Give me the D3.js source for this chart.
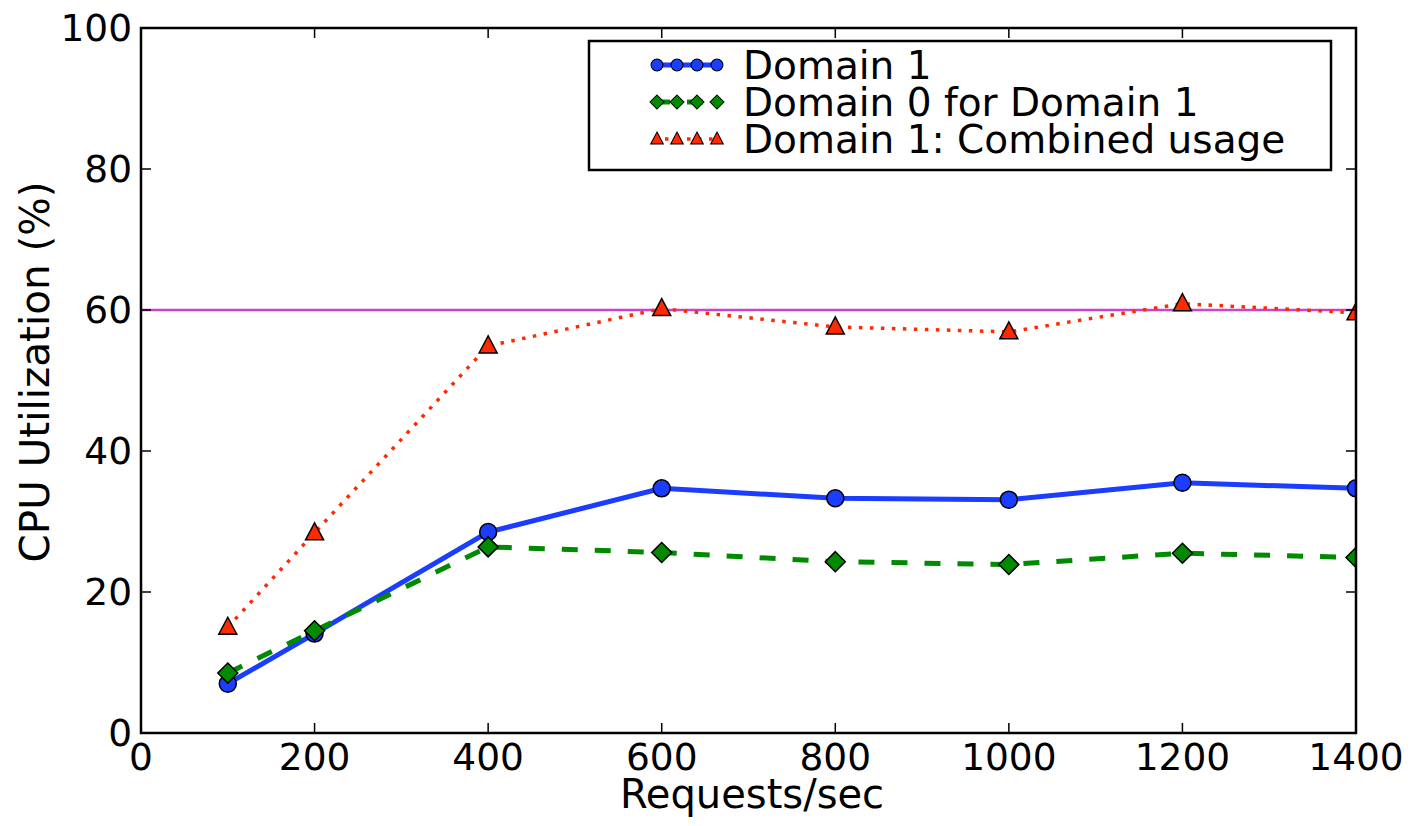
<!DOCTYPE html>
<html>
<head>
<meta charset="utf-8">
<script src="https://cdn.jsdelivr.net/npm/d3@7"></script>
<style>
  body { margin: 0; background: #fff; }
  text { font-family: "DejaVu Sans", sans-serif; fill: #000; }
</style>
</head>
<body>
<div id="canvas"></div>
<script>
// data
const requests = [100, 200, 400, 600, 800, 1000, 1200, 1400];
const domain1 = [7.0, 14.1, 28.5, 34.7, 33.3, 33.1, 35.5, 34.7];
const domain0For1 = [8.5, 14.5, 26.4, 25.6, 24.3, 23.9, 25.5, 24.9];
const combined = [15.0, 28.4, 54.9, 60.2, 57.6, 56.9, 60.9, 59.6];
const capLine = 60;
const xTicks = [0, 200, 400, 600, 800, 1000, 1200, 1400];
const yTicks = [0, 20, 40, 60, 80, 100];

const W = 1416, H = 826;
const M = {t: 28, r: 60, b: 93, l: 141};
const iw = W - M.l - M.r, ih = H - M.t - M.b;

const svg = d3.select('#canvas').append('svg')
  .attr('width', W).attr('height', H);

const x = d3.scaleLinear().domain([0, 1400]).range([0, iw]);
const y = d3.scaleLinear().domain([0, 100]).range([ih, 0]);

const plot = svg.append('g').attr('transform', 'translate(' + M.l + ',' + M.t + ')');

// cap line
plot.append('line')
  .attr('x1', x(0)).attr('x2', x(1400))
  .attr('y1', y(capLine)).attr('y2', y(capLine))
  .style('stroke', '#cc44cc').style('stroke-width', 2.5);

const series = [
  {name: 'Domain 1', vals: domain1, color: '#1a3dff', dash: null, width: 5, marker: 'circle'},
  {name: 'Domain 0 for Domain 1', vals: domain0For1, color: '#008a00', dash: '16,17', width: 5, marker: 'diamond'},
  {name: 'Domain 1: Combined usage', vals: combined, color: '#ff2a00', dash: '3.5,7.5', width: 3.5, marker: 'triangle'}
];

const line = d3.line().x(d => x(d[0])).y(d => y(d[1]));

function marker(g, type, fill) {
  if (type === 'circle') {
    g.append('circle').attr('r', 8.5);
  } else if (type === 'diamond') {
    g.append('path').attr('d', 'M0,-10L10,0L0,10L-10,0Z');
  } else {
    g.append('path').attr('d', 'M0,-10L9,7L-9,7Z');
  }
  g.selectAll('circle,path').style('fill', fill).style('stroke', '#000').style('stroke-width', 1.5);
}

svg.append('defs').append('clipPath').attr('id', 'clip')
  .append('rect').attr('width', iw).attr('height', ih);

const drawLayer = plot.append('g').attr('clip-path', 'url(#clip)');

series.forEach(s => {
  const pts = requests.map((r, i) => [r, s.vals[i]]);
  drawLayer.append('path')
    .datum(pts)
    .attr('d', line)
    .style('fill', 'none')
    .style('stroke', s.color)
    .style('stroke-width', s.width)
    .style('stroke-dasharray', s.dash);
});

series.forEach(s => {
  requests.forEach((r, i) => {
    const g = drawLayer.append('g').attr('transform', 'translate(' + x(r) + ',' + y(s.vals[i]) + ')');
    marker(g, s.marker, s.color);
  });
});

// frame
plot.append('rect').attr('width', iw).attr('height', ih)
  .style('fill', 'none').style('stroke', '#000').style('stroke-width', 2.5);

// ticks (inside, all four sides)
const tk = 10;
xTicks.forEach(t => {
  plot.append('line').attr('x1', x(t)).attr('x2', x(t)).attr('y1', ih).attr('y2', ih - tk)
    .style('stroke', '#000').style('stroke-width', 1.5);
  plot.append('line').attr('x1', x(t)).attr('x2', x(t)).attr('y1', 0).attr('y2', tk)
    .style('stroke', '#000').style('stroke-width', 1.5);
  plot.append('text').attr('x', x(t)).attr('y', ih + 37)
    .attr('text-anchor', 'middle').style('font-size', '37.5px').text(t);
});
yTicks.forEach(t => {
  plot.append('line').attr('x1', 0).attr('x2', tk).attr('y1', y(t)).attr('y2', y(t))
    .style('stroke', '#000').style('stroke-width', 1.5);
  plot.append('line').attr('x1', iw).attr('x2', iw - tk).attr('y1', y(t)).attr('y2', y(t))
    .style('stroke', '#000').style('stroke-width', 1.5);
  plot.append('text').attr('x', -9).attr('y', y(t) + 13)
    .attr('text-anchor', 'end').style('font-size', '37.5px').text(t);
});

// axis titles
svg.append('text').attr('x', 752).attr('y', 808)
  .attr('text-anchor', 'middle').style('font-size', '40px').text('Requests/sec');
svg.append('text').attr('transform', 'translate(49,372) rotate(-90)')
  .attr('text-anchor', 'middle').style('font-size', '40.5px').text('CPU Utilization (%)');

// legend
const lg = svg.append('g').attr('transform', 'translate(589,41)');
lg.append('rect').attr('width', 742).attr('height', 129)
  .style('fill', '#fff').style('stroke', '#000').style('stroke-width', 2.5);
series.forEach((s, i) => {
  const cy = 24 + i * 37;
  lg.append('line').attr('x1', 65).attr('x2', 131).attr('y1', cy).attr('y2', cy)
    .style('stroke', s.color).style('stroke-width', s.width).style('stroke-dasharray', s.dash);
  [68, 88, 108, 128].forEach(px => {
    const g = lg.append('g').attr('transform', 'translate(' + px + ',' + cy + ') scale(0.7)');
    marker(g, s.marker, s.color);
  });
  lg.append('text').attr('x', 154).attr('y', cy + 14)
    .style('font-size', '39px').text(s.name);
});
</script>
</body>
</html>
